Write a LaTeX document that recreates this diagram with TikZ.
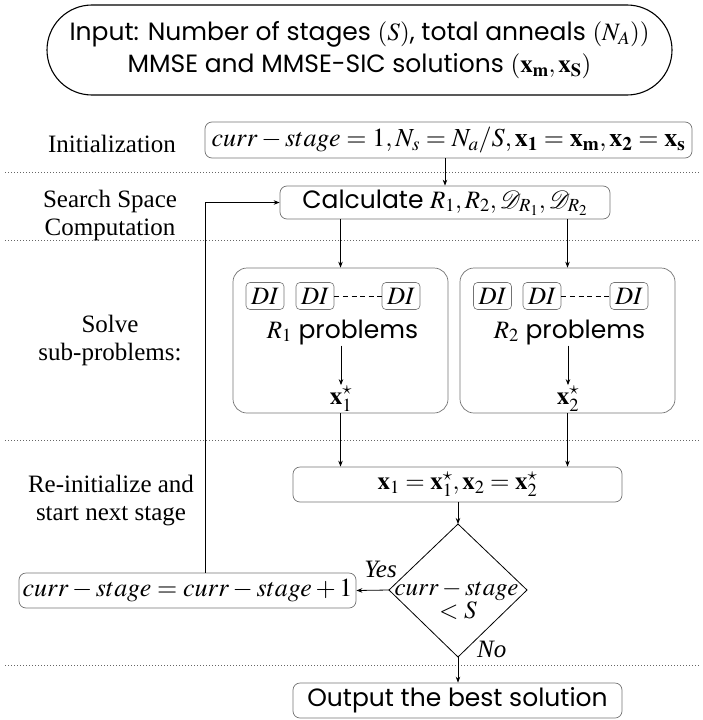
\documentclass[tikz,border=0pt]{standalone}
\usepackage{mathptmx}
\usepackage[no-math]{fontspec}
\setmainfont{Liberation Serif}
\newfontfamily\pop{Poppins}
\usetikzlibrary{arrows.meta,shapes.misc}
\newcommand\sansbig{\pop\fontsize{25}{32}\selectfont}
\newcommand\serifbig{\rmfamily\fontsize{25}{28}\selectfont}
\begin{document}
\begin{tikzpicture}[x=1pt,y=-1pt,
  rbox/.style={draw=black!55, rounded corners=7pt, line width=0.7pt, inner sep=0pt, align=center},
  dibox/.style={draw=black!55, rounded corners=4pt, line width=0.6pt, inner sep=0pt, minimum width=38pt, minimum height=27pt, font=\serifbig},
  lbl/.style={font=\serifbig, align=center, inner sep=0pt},
  arr/.style={-{Stealth[length=6pt,width=4.5pt]}, line width=0.8pt},
  sep/.style={draw=black!60, line width=0.8pt, dash pattern=on 0.8pt off 2.2pt},
  plain/.style={line width=0.8pt}
]
\useasboundingbox (0,0) rectangle (702,720);

% separators
\draw[sep] (5,172) -- (700,172);
\draw[sep] (5,240) -- (700,240);
\draw[sep] (5,440) -- (700,440);
\draw[sep] (5,665) -- (700,665);

% input
\node[draw, rounded rectangle, line width=1.1pt, minimum width=625pt, minimum height=90pt, inner sep=0pt, align=center, font=\sansbig] (inp) at (359.5,50)
  {Input: Number of stages $(S)$, total anneals $(N_A))$\\ MMSE and MMSE-SIC solutions $(\mathbf{x_m}, \mathbf{x_S})$};

% left labels (base anchor = last line)
\node[lbl, anchor=base] (linit) at (112,152) {Initialization};
\node[lbl, anchor=base] (lsearch) at (110,235) {Search Space\\Computation};
\node[lbl, anchor=base] (lsolve) at (110,360) {Solve\\sub-problems:};
\node[lbl, anchor=base] (lre) at (111,520) {Re-initialize and\\start next stage};

% init
\node[rbox, minimum width=487pt, minimum height=36pt, font=\rmfamily\fontsize{26}{30}\selectfont] (init) at (448.5,140)
  {$curr - stage = 1, N_s = N_a/S, \mathbf{x_1} = \mathbf{x_m}, \mathbf{x_2} = \mathbf{x_s}$};

% calculate
\node[rbox, minimum width=330pt, minimum height=33pt, font=\sansbig] (calc) at (445,202.5)
  {Calculate $R_1, R_2, \mathcal{D}_{R_1}, \mathcal{D}_{R_2}$};

% sub boxes
\node[rbox, rounded corners=14pt, minimum width=215pt, minimum height=145pt] (sub1) at (340.5,340.5) {};
\node[rbox, rounded corners=14pt, minimum width=215pt, minimum height=145pt] (sub2) at (567.5,340.5) {};

\node[dibox] (a1) at (265,296) {$DI$};
\node[dibox] (a2) at (315,296) {$DI$};
\node[dibox] (a3) at (401,296) {$DI$};
\node[dibox] (b1) at (492.5,296) {$DI$};
\node[dibox] (b2) at (542,296) {$DI$};
\node[dibox] (b3) at (629,296) {$DI$};
\draw[line width=0.7pt, dash pattern=on 5pt off 3.6pt] (a2.east) -- (a3.west);
\draw[line width=0.7pt, dash pattern=on 5pt off 3.6pt] (b2.east) -- (b3.west);

\node[font=\sansbig, anchor=base, inner sep=1pt] (p1) at (342.5,338) {$R_1$ problems};
\node[font=\sansbig, anchor=base, inner sep=1pt] (p2) at (569.5,338) {$R_2$ problems};
\node[font=\serifbig, anchor=base, inner sep=1pt] (s1) at (341,404) {$\mathbf{x}_1^\star$};
\node[font=\serifbig, anchor=base, inner sep=1pt] (s2) at (568,404) {$\mathbf{x}_2^\star$};
\draw[arr] (p1.south -| s1.north) -- (s1.north);
\draw[arr] (p2.south -| s2.north) -- (s2.north);

% update
\node[rbox, minimum width=329pt, minimum height=35pt, font=\serifbig] (upd) at (457.5,484.5)
  {$\mathbf{x}_1 = \mathbf{x}_1^\star, \mathbf{x}_2 = \mathbf{x}_2^\star$};

% diamond
\coordinate (dtop) at (458,524);
\coordinate (dbot) at (458,657);
\coordinate (dleft) at (389,590);
\coordinate (dright) at (527,590);
\draw[plain] (dtop) -- (dright) -- (dbot) -- (dleft) -- cycle;
\node[font=\serifbig, anchor=base, inner sep=0pt] (dq1) at (456.5,595) {$curr - stage$};
\node[font=\serifbig, anchor=base, inner sep=0pt] (dq2) at (458,618) {$< S$};
\node[font=\serifbig, anchor=base east, inner sep=0pt] (yes) at (397,577) {\textit{Yes}};
\node[font=\serifbig, anchor=base west, inner sep=0pt] (no) at (477,657) {\textit{No}};

% cs box
\node[rbox, minimum width=337pt, minimum height=35pt, font=\rmfamily\fontsize{26}{30}\selectfont] (cs) at (187.5,590.5)
  {$curr - stage = curr - stage + 1$};

% output
\node[rbox, minimum width=329pt, minimum height=35pt, font=\sansbig] (out) at (457.5,700.5)
  {Output the best solution};

% connectors
\coordinate (loop) at (205,202.5);
\draw[arr] (init.south -| calc.north) -- (calc.north);
\draw[arr] (calc.south -| sub1.north) -- (sub1.north);
\draw[arr] (calc.south -| sub2.north) -- (sub2.north);
\draw[arr] (sub1.south) -- (sub1.south |- upd.north);
\draw[arr] (sub2.south) -- (sub2.south |- upd.north);
\draw[arr] (upd.south -| dtop) -- (dtop);
\draw[arr] (dleft) -- (cs.east);
\draw[arr] (cs.north -| loop) -- (loop) -- (calc.west);
\draw[arr] (dbot) -- (out.north -| dbot);
\end{tikzpicture}
\end{document}
